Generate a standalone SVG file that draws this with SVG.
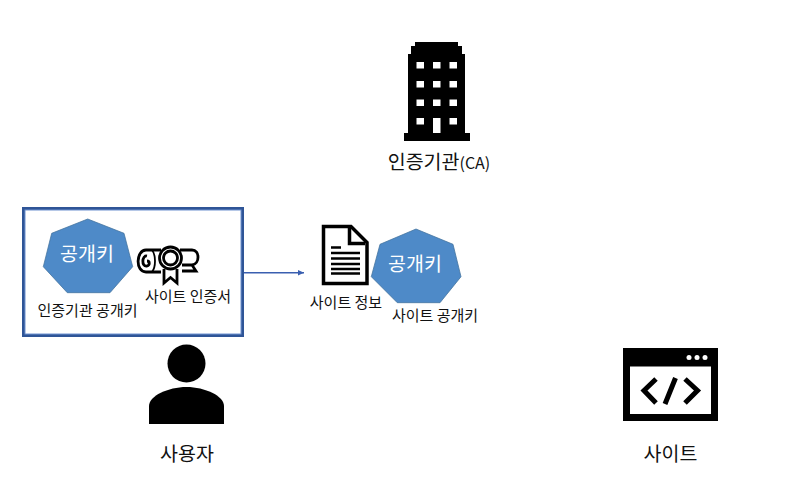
<svg xmlns="http://www.w3.org/2000/svg" width="790" height="501" viewBox="0 0 790 501">
<style>
text{font-family:"Noto Sans CJK KR","Noto Sans",sans-serif;fill:#111;text-anchor:middle}
.l{font-size:19.500px}.s{font-size:15px}.k{font-size:19.500px;fill:#fff}
.h{fill:#4e8ac8;stroke:#41719c;stroke-width:.75}
</style>
<defs><marker id="a" markerUnits="userSpaceOnUse" markerWidth="7" markerHeight="7" refX="6" refY="3.500" orient="auto"><path d="M0 .8L6 3.500L0 6.200z" fill="#3a5fb0"/></marker></defs>
<rect width="790" height="501" fill="#fff"/>
<g id="connectors"><path d="M244 272.700H304" fill="none" stroke="#3a5fb0" stroke-width="1.500" marker-end="url(#a)"/></g>
<g id="ca">
<path d="M415 42H458V46H462V54H465V133H470V141H404V133H408V54H411V46H415Z" fill="#000"/>
<path fill="#fff" d="M416.500 62h7.500v6.500h-7.500zM433 62h7.500v6.500H433zM449.500 62h7.500v6.500h-7.500zM416.500 81h7.500v6.500h-7.500zM433 81h7.500v6.500H433zM449.500 81h7.500v6.500h-7.500zM416.500 99.500h7.500v6.500h-7.500zM433 99.500h7.500v6.500H433zM449.500 99.500h7.500v6.500h-7.500zM416.500 118h7.500v6.500h-7.500zM433 118h7.500v15H433zM449.500 118h7.500v6.500h-7.500z"/>
<text class="l" x="439" y="169">인증기관<tspan font-size="16px">(CA)</tspan></text>
</g>
<g id="user-box">
<rect x="23.500" y="208.500" width="219" height="127" fill="#fff" stroke="#2f5597" stroke-width="3"/>
<rect x="25" y="210" width="216" height="124" fill="none" stroke="#6f92d0" stroke-width="1"/>
<polygon class="h" points="87.700,219 124,233.300 132.700,266.700 110,292.700 67.300,292.700 43.300,266.700 51.700,233.300"/>
<text class="k" x="87" y="261">공개키</text>
<text class="s" x="87.500" y="316">인증기관 공개키</text>
<g id="certificate" fill="none" stroke="#000" stroke-width="2.800">
<path d="M161 250H146C136 250 135 272 146 272H161"/>
<path d="M147 256C142 255 141 267 147 266C150 265 150 261 147 261"/>
<path d="M180 250H192C200 250 200 264 192 265H182M192 265L196 271H182"/>
<path d="M152 250C156 255 156 267 152 272" stroke-width="1.800"/>
<path d="M164 269V283L170.500 277.500L177 283V269"/>
<circle cx="170.500" cy="258" r="11" fill="#fff"/>
<circle cx="170.500" cy="258" r="7"/>
</g>
<text class="s" x="188" y="302">사이트 인증서</text>
</g>
<g id="site-info">
<path d="M323.500 226.500H351L367 242.500V283.500H323.500Z" fill="#fff" stroke="#000" stroke-width="3.500"/>
<path d="M349.500 228V243.500H365" fill="none" stroke="#000" stroke-width="3.500"/>
<path d="M331 247.500H341M331 253H360M331 258.500H360M331 264H360M331 269H360M331 273.500H360" fill="none" stroke="#000" stroke-width="2.400"/>
<text class="s" x="346" y="308">사이트 정보</text>
</g>
<g id="site-key">
<polygon class="h" points="416,229 453,244.300 461,276.700 440,302.700 397.300,302.700 371.300,276.700 380,244.300"/>
<text class="k" x="415" y="271">공개키</text>
<text class="s" x="435" y="321">사이트 공개키</text>
</g>
<g id="user">
<circle cx="186.500" cy="363.500" r="19" fill="#000"/>
<path d="M149 424V406C149 396 168 387 186.500 387C205 387 224 396 224 406V424Z" fill="#000"/>
<text class="l" x="187" y="461">사용자</text>
</g>
<g id="site">
<rect x="623" y="348" width="95" height="73" fill="#000"/>
<rect x="630" y="366.500" width="81" height="47.500" fill="#fff"/>
<circle cx="689" cy="357.500" r="2.500" fill="#fff"/><circle cx="697" cy="357.500" r="2.500" fill="#fff"/><circle cx="705" cy="357.500" r="2.500" fill="#fff"/>
<path d="M656 379L644 390.500L656 403M685 379L697.500 390.500L685 403M675.500 378L665 404" fill="none" stroke="#000" stroke-width="5"/>
<text class="l" x="670.500" y="461">사이트</text>
</g>
</svg>
